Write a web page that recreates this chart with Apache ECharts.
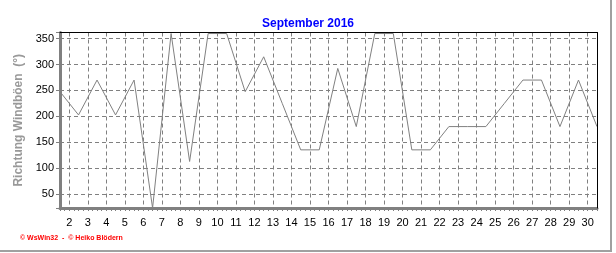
<!DOCTYPE html>
<html>
<head>
<meta charset="utf-8">
<script src="https://cdn.jsdelivr.net/npm/echarts@6/dist/echarts.min.js"></script>
<style>
html,body{margin:0;padding:0;background:#fff;}
#chart{width:616px;height:253px;}
</style>
</head>
<body>
<div id="chart"></div>
<script>
// Days of September 2016 and wind gust direction (degrees)
const days = [1,2,3,4,5,6,7,8,9,10,11,12,13,14,15,16,17,18,19,20,21,22,23,24,25,26,27,28,29,30];
const gustDirection = [247.5,202.5,270,202.5,270,22.5,360,112.5,360,360,247.5,315,225,135,135,292.5,180,360,360,135,135,180,180,180,225,270,270,180,270,180];
const xTickLabels = ['2','3','4','5','6','7','8','9','10','11','12','13','14','15','16','17','18','19','20','21','22','23','24','25','26','27','28','29','30'];
const yTickLabels = ['50','100','150','200','250','300','350'];
const titleText = 'September 2016';
const yAxisTitle = 'Richtung Windböen  (°)';
const footerText = '© WsWin32  -  © Heiko Blödern';

// each daily value is drawn half a step right of its day number
const seriesData = days.map((d, i) => [d + 0.5, gustDirection[i]]);
const xMin = days[0] + 0.5, xMax = days[days.length - 1] + 0.5;
const yMin = 22.5, yMax = 362;

const chart = echarts.init(document.getElementById('chart'), null, {renderer: 'canvas'});
const font = 'Liberation Sans, Arial, sans-serif';
chart.setOption({
  animation: false,
  backgroundColor: '#ffffff',
  title: {
    text: titleText,
    left: 'center',
    top: 13,
    textStyle: {color: '#0000ff', fontSize: 12, fontWeight: 'bold', fontFamily: font}
  },
  grid: {left: 60, right: 19, top: 32.5, bottom: 45, containLabel: false},
  xAxis: [
    {
      type: 'value', position: 'bottom', min: xMin, max: xMax,
      minInterval: 1, maxInterval: 1, z: 1,
      axisLine: {show: true, lineStyle: {color: '#808080', width: 3}},
      axisTick: {show: true, length: 3, lineStyle: {color: '#808080'}},
      axisLabel: {
        show: true, margin: 9, color: '#000', fontSize: 11, fontFamily: font,
        showMinLabel: true, showMaxLabel: true,
        formatter: v => xTickLabels.includes(String(v)) ? String(v) : ''
      },
      splitLine: {show: true, lineStyle: {color: '#808080', width: 1, type: [4, 3]}}
    },
    {
      type: 'value', position: 'bottom', min: xMin, max: xMax, interval: 0.25,
      axisLine: {show: false},
      axisTick: {show: true, length: 3, lineStyle: {color: '#808080'}},
      axisLabel: {show: false},
      splitLine: {show: false}
    },
    {
      type: 'value', position: 'top', min: xMin, max: xMax, z: 5,
      axisLine: {show: true, lineStyle: {color: '#000', width: 1}},
      axisTick: {show: false}, axisLabel: {show: false}, splitLine: {show: false}
    }
  ],
  yAxis: [
    {
      type: 'value', position: 'left', min: yMin, max: yMax,
      minInterval: 50, maxInterval: 50, z: 1,
      name: yAxisTitle, nameLocation: 'middle', nameGap: 29,
      nameTextStyle: {color: '#999999', fontSize: 12, fontWeight: 'bold', fontFamily: font},
      axisLine: {show: true, lineStyle: {color: '#808080', width: 3}},
      axisTick: {show: true, length: 4, lineStyle: {color: '#808080'}},
      axisLabel: {
        show: true, margin: 6, color: '#000', fontSize: 11, fontFamily: font,
        formatter: v => yTickLabels.includes(String(v)) ? String(v) : ''
      },
      splitLine: {show: true, lineStyle: {color: '#808080', width: 1, type: [4, 3]}}
    },
    {
      type: 'value', position: 'right', min: yMin, max: yMax, z: 5,
      axisLine: {show: true, lineStyle: {color: '#000', width: 1}},
      axisTick: {show: false}, axisLabel: {show: false}, splitLine: {show: false}
    }
  ],
  series: [{
    type: 'line', xAxisIndex: 0, yAxisIndex: 0, z: 3,
    data: seriesData,
    showSymbol: false, symbol: 'none',
    lineStyle: {color: '#808080', width: 1},
    itemStyle: {color: '#808080'}
  }],
  graphic: [
    {type: 'line', z: 10, shape: {x1: 611, y1: 0, x2: 611, y2: 251}, style: {stroke: '#a0a0a0', lineWidth: 2}},
    {type: 'line', z: 10, shape: {x1: 0, y1: 251, x2: 612, y2: 251}, style: {stroke: '#a0a0a0', lineWidth: 2}},
    {type: 'text', z: 10, left: 20, top: 235,
     style: {text: footerText, fill: '#ff0000', font: 'bold 7px ' + font}}
  ]
});
</script>
</body>
</html>
